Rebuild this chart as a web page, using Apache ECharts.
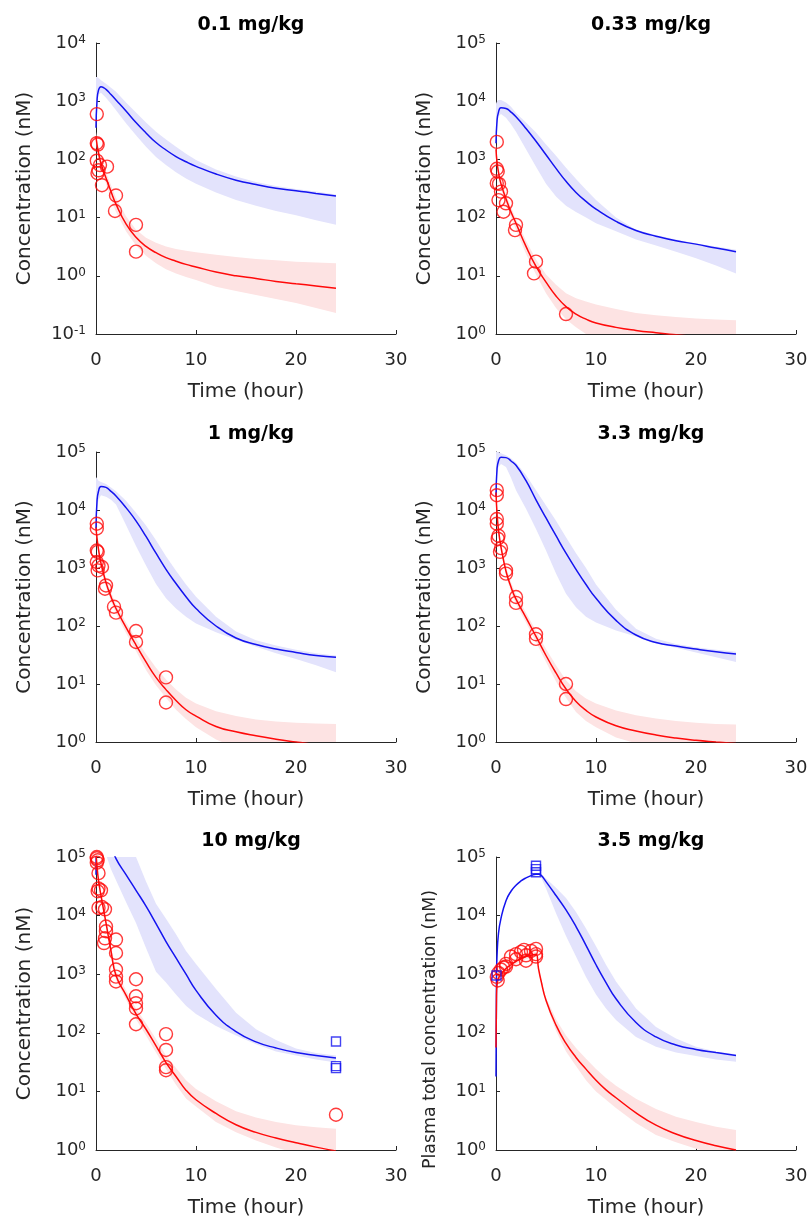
<!DOCTYPE html>
<html>
<head>
<meta charset="utf-8">
<script src="https://cdn.jsdelivr.net/npm/echarts@6/dist/echarts.min.js"></script>
<style>
  html, body { margin: 0; padding: 0; background: #fff; }
  #pk { width: 812px; height: 1222px; }
</style>
</head>
<body>
<div id="pk"></div>
<script>
// ---- time grid used for model curves (hour) ----
var T = [0, 0.1, 0.25, 0.5, 1, 1.5, 2, 3, 4, 5, 6, 7, 8, 9, 10, 12, 14, 16, 18, 20, 22, 24];
var T6 = [0, 0.05, 0.1, 0.25, 0.5, 1, 1.5, 2, 2.5, 3, 3.5, 4, 4.25, 4.5, 5, 6, 7, 8, 9, 10, 11, 12, 14, 16, 18, 20, 22, 24];

// ---- 0.1 mg/kg ----
var p1BlueMid = [350, 1000, 1550, 1780, 1600, 1300, 1050, 680, 430, 285, 195, 145, 112, 91, 76, 56, 44, 37, 32, 29, 26, 23.5];
var p1BlueHi = [2600, 2600, 2500, 2300, 2000, 1700, 1450, 950, 640, 430, 300, 220, 165, 125, 98, 67, 51, 41, 35, 31, 28, 25];
var p1BlueLo = [350, 900, 1300, 1400, 1150, 900, 700, 420, 260, 165, 110, 80, 60, 47, 38, 27, 20, 16, 13, 11, 9, 7.5];
var p1RedMid = [250, 180, 130, 85, 48, 28, 17, 7.8, 4.6, 3.2, 2.5, 2.05, 1.78, 1.57, 1.42, 1.16, 1.0, 0.9, 0.8, 0.73, 0.67, 0.61];
var p1RedHi = [300, 220, 160, 105, 60, 36, 22, 10.5, 6.2, 4.5, 3.7, 3.2, 2.9, 2.7, 2.55, 2.3, 2.1, 1.95, 1.85, 1.75, 1.7, 1.65];
var p1RedLo = [200, 150, 105, 68, 38, 21, 12.5, 5.8, 3.3, 2.2, 1.65, 1.3, 1.1, 0.95, 0.85, 0.65, 0.55, 0.47, 0.4, 0.34, 0.28, 0.23];
var circ1 = [[0.08, 600], [0.08, 190], [0.17, 180], [0.08, 95], [0.4, 80], [0.25, 65], [0.15, 58], [1.1, 75], [0.6, 36], [2.0, 24], [1.9, 13], [4.0, 7.5], [4.0, 2.6]];

// ---- 0.33 mg/kg ----
var p2BlueMid = [1900, 4500, 6500, 7700, 7500, 6500, 5400, 3400, 2050, 1200, 700, 420, 270, 190, 140, 86, 60, 48, 40, 35, 30, 26];
var p2BlueHi = [9000, 10000, 10500, 10500, 9500, 8000, 6300, 4300, 2900, 1800, 1150, 720, 460, 300, 200, 100, 62, 50, 42, 36, 32, 28];
var p2BlueLo = [1900, 4000, 5500, 6000, 5200, 4000, 3000, 1500, 750, 380, 230, 160, 125, 100, 80, 58, 42, 33, 26, 20, 15, 11];
var p2RedMid = [1500, 900, 600, 380, 210, 125, 80, 32, 14.5, 7.8, 4.5, 2.95, 2.2, 1.8, 1.55, 1.3, 1.15, 1.05, 0.97, 0.9, 0.84, 0.78];
var p2RedHi = [1800, 1100, 720, 460, 250, 150, 95, 40, 19, 10.5, 7, 5, 4.1, 3.6, 3.2, 2.7, 2.3, 2.1, 1.95, 1.85, 1.78, 1.72];
var p2RedLo = [1200, 750, 500, 310, 170, 100, 62, 24, 10.5, 5, 2.8, 1.8, 1.3, 1.0, 0.85, 0.65, 0.55, 0.48, 0.43, 0.4, 0.37, 0.35];
var circ2 = [[0.08, 2000], [0.08, 690], [0.17, 620], [0.08, 390], [0.3, 380], [0.5, 280], [0.25, 200], [1.0, 176], [0.75, 126], [2.0, 75], [1.9, 61], [4.0, 17.5], [3.8, 11], [7.0, 2.2]];

// ---- 1 mg/kg ----
var p3BlueMid = [4800, 14000, 21000, 25500, 24500, 21000, 17500, 11000, 6500, 3500, 1800, 950, 540, 320, 200, 100, 62, 48, 40, 35, 31, 29];
var p3BlueHi = [37000, 35000, 32000, 30500, 28000, 24500, 21000, 14500, 9000, 5400, 3000, 1600, 900, 520, 320, 145, 80, 57, 46, 39, 34, 31];
var p3BlueLo = [4800, 10000, 15000, 18000, 17000, 15000, 12500, 5500, 2400, 1100, 530, 300, 200, 145, 110, 78, 58, 44, 34, 27, 21, 16];
var p3RedMid = [5000, 3300, 2100, 1200, 560, 320, 200, 95, 47, 24, 13, 8, 5.2, 3.6, 2.8, 1.85, 1.5, 1.28, 1.12, 1.0, 0.9, 0.82];
var p3RedHi = [5800, 3900, 2500, 1420, 660, 380, 240, 115, 60, 33, 19, 12, 8, 5.8, 4.6, 3.4, 2.8, 2.45, 2.25, 2.15, 2.08, 2.05];
var p3RedLo = [4200, 2800, 1800, 1020, 470, 265, 165, 76, 37, 17.5, 9.5, 5.8, 3.6, 2.5, 1.8, 1.1, 0.8, 0.65, 0.55, 0.48, 0.42, 0.38];
var circ3 = [[0.08, 5800], [0.08, 4800], [0.08, 2000], [0.17, 1900], [0.08, 1270], [0.25, 1100], [0.17, 910], [0.6, 1040], [1.0, 500], [0.9, 440], [1.8, 215], [2.0, 170], [4.0, 82], [4.0, 53], [7.0, 13], [7.0, 4.8]];

// ---- 3.3 mg/kg ----
var p4BlueMid = [17000, 50000, 70000, 81000, 80000, 70000, 59000, 32000, 15000, 7300, 3600, 1800, 950, 520, 300, 125, 70, 52, 45, 40, 36, 33];
var p4BlueHi = [110000, 105000, 100000, 95000, 88000, 78000, 65000, 40000, 22000, 12000, 6500, 3400, 1800, 1000, 520, 190, 90, 60, 49, 43, 39, 36];
var p4BlueLo = [17000, 40000, 55000, 62000, 55000, 36000, 22000, 10500, 4700, 2000, 800, 360, 210, 145, 115, 84, 66, 50, 42, 35, 29, 24];
var p4RedMid = [20000, 9000, 4500, 2300, 880, 470, 290, 140, 66, 31, 15.5, 8.2, 5, 3.5, 2.7, 1.9, 1.55, 1.32, 1.17, 1.07, 1.0, 0.94];
var p4RedHi = [25000, 10500, 5300, 2700, 1050, 560, 350, 170, 82, 40, 21, 11.6, 7.5, 5.6, 4.6, 3.5, 2.9, 2.55, 2.3, 2.15, 2.05, 2.0];
var p4RedLo = [17000, 7600, 3800, 1950, 740, 390, 240, 115, 53, 24, 11, 5.8, 3.3, 2.3, 1.8, 1.2, 0.95, 0.78, 0.67, 0.58, 0.52, 0.47];
var circ4 = [[0.08, 22000], [0.08, 18000], [0.08, 7000], [0.08, 5800], [0.25, 3600], [0.17, 3200], [0.5, 2200], [0.4, 1900], [1.0, 910], [1.0, 800], [2.0, 316], [2.0, 250], [4.0, 72], [4.0, 60], [7.0, 10], [7.0, 5.5]];

// ---- 10 mg/kg ----
var p5BlueMid = [50000, 250000, 300000, 320000, 260000, 160000, 94000, 50000, 27000, 14500, 7300, 3600, 1900, 1000, 530, 200, 105, 70, 55, 46, 41, 37];
var p5BlueHi = [400000, 450000, 480000, 480000, 420000, 350000, 280000, 170000, 100000, 38000, 16000, 8800, 4800, 2500, 1500, 560, 220, 115, 75, 54, 45, 41];
var p5BlueLo = [50000, 200000, 240000, 230000, 110000, 62000, 40000, 17000, 7500, 2800, 1100, 720, 450, 290, 210, 130, 90, 64, 48, 41, 35, 31];
var p5RedMid = [120000, 70000, 40000, 22000, 7500, 2500, 950, 440, 210, 115, 60, 31, 18, 10.5, 7.2, 4.2, 2.7, 2.0, 1.6, 1.33, 1.12, 0.96];
var p5RedHi = [140000, 82000, 47000, 26000, 9000, 3000, 1150, 530, 260, 145, 78, 41, 25, 15.5, 11, 6.8, 4.6, 3.6, 3.0, 2.65, 2.45, 2.3];
var p5RedLo = [100000, 60000, 34000, 18500, 6200, 2100, 800, 370, 170, 90, 46, 24, 13, 7.6, 5.5, 3.0, 2.0, 1.45, 1.1, 0.88, 0.7, 0.58];
var circ5 = [[0.08, 100000], [0.08, 95000], [0.17, 88000], [0.08, 80000], [0.25, 53000], [0.25, 29000], [0.5, 27000], [0.17, 26000], [0.6, 14000], [0.25, 13500], [0.9, 12800], [1.0, 6500], [1.0, 5400], [0.9, 4100], [0.8, 3400], [2.0, 3900], [2.0, 2300], [2.0, 1200], [2.0, 910], [2.0, 750], [4.0, 820], [4.0, 420], [4.0, 320], [4.0, 260], [4.0, 140], [7.0, 95], [7.0, 51], [7.0, 26], [7.0, 23], [24.0, 4.0]];
var sq5 = [[24, 71], [24, 27], [24, 25]];

// ---- 3.5 mg/kg (infusion) ----
var p6BlueMid = [18, 900, 2000, 5000, 9000, 18000, 26000, 33000, 39000, 44000, 48000, 51000, 51000, 49000, 38000, 22000, 12500, 6500, 3100, 1450, 720, 380, 150, 85, 62, 52, 46, 41];
var p6BlueHi = [18, 900, 2000, 5000, 9000, 18000, 26000, 33000, 39000, 44000, 48000, 51000, 52000, 50500, 43000, 30000, 20000, 11500, 6000, 3000, 1450, 750, 260, 125, 80, 58, 48, 43];
var p6BlueLo = [18, 900, 2000, 5000, 9000, 18000, 26000, 33000, 39000, 44000, 48000, 51000, 50000, 45000, 29000, 11000, 4500, 2000, 900, 450, 260, 165, 85, 58, 46, 40, 35, 32];
var p6RedMid = [56, 400, 650, 850, 1000, 1250, 1450, 1650, 1850, 2000, 2100, 2200, 1250, 780, 360, 135, 66, 38, 24, 15.5, 10.6, 7.8, 4.3, 2.65, 1.88, 1.45, 1.18, 1.0];
var p6RedHi = [56, 440, 720, 940, 1100, 1380, 1600, 1820, 2040, 2200, 2310, 2420, 1320, 840, 400, 170, 90, 55, 36, 24, 17, 12.5, 7.5, 5, 3.7, 3.0, 2.5, 2.2];
var p6RedLo = [56, 360, 590, 770, 900, 1120, 1300, 1480, 1660, 1800, 1900, 2000, 1180, 720, 320, 108, 48, 27, 15.5, 10, 7.2, 5.2, 2.9, 1.8, 1.35, 1.05, 0.85, 0.7];
var circ6 = [[0.08, 900], [0.17, 780], [0.25, 1050], [0.5, 1200], [0.75, 1300], [1.0, 1500], [1.0, 1350], [1.5, 2000], [2.0, 2200], [2.0, 1800], [2.5, 2400], [2.8, 2600], [3.0, 1700], [3.0, 2100], [3.5, 2500], [4.0, 2700], [4.0, 2200], [4.0, 2000]];
var sq6 = [[4.0, 71000], [4.0, 62000], [4.0, 55000], [0.05, 950]];

var titles = ['0.1 mg/kg', '0.33 mg/kg', '1 mg/kg', '3.3 mg/kg', '10 mg/kg', '3.5 mg/kg'];
var yNames = ['Concentration (nM)', 'Concentration (nM)', 'Concentration (nM)', 'Concentration (nM)', 'Concentration (nM)', 'Plasma total concentration (nM)'];
var yMins = [0.1, 1, 1, 1, 1, 1];
var yMaxs = [1e4, 1e5, 1e5, 1e5, 1e5, 1e5];

function renderPK() {
    var dom = document.getElementById('pk');
    var myChart = echarts.init(dom, null, { renderer: 'canvas' });
    var option;

    var txt = '#262626';
    var font = 'DejaVu Sans';
    var blue = '#1414f0', red = '#ff0a0a';
    var blueBand = '#e3e3fc', redBand = '#fde3e3';

    var panels = [
        { t: T, bm: p1BlueMid, bh: p1BlueHi, bl: p1BlueLo, rm: p1RedMid, rh: p1RedHi, rl: p1RedLo, c: circ1, s: [] },
        { t: T, bm: p2BlueMid, bh: p2BlueHi, bl: p2BlueLo, rm: p2RedMid, rh: p2RedHi, rl: p2RedLo, c: circ2, s: [] },
        { t: T, bm: p3BlueMid, bh: p3BlueHi, bl: p3BlueLo, rm: p3RedMid, rh: p3RedHi, rl: p3RedLo, c: circ3, s: [] },
        { t: T, bm: p4BlueMid, bh: p4BlueHi, bl: p4BlueLo, rm: p4RedMid, rh: p4RedHi, rl: p4RedLo, c: circ4, s: [] },
        { t: T, bm: p5BlueMid, bh: p5BlueHi, bl: p5BlueLo, rm: p5RedMid, rh: p5RedHi, rl: p5RedLo, c: circ5, s: sq5 },
        { t: T6, bm: p6BlueMid, bh: p6BlueHi, bl: p6BlueLo, rm: p6RedMid, rh: p6RedHi, rl: p6RedLo, c: circ6, s: sq6 }
    ];

    var grids = [
        { left: 96, top: 43, width: 300, height: 291 },
        { left: 496, top: 43, width: 300, height: 291 },
        { left: 96, top: 452, width: 300, height: 290 },
        { left: 496, top: 452, width: 300, height: 290 },
        { left: 96, top: 857, width: 300, height: 293 },
        { left: 496, top: 857, width: 300, height: 293 }
    ];
    var titleTops = [11, 11, 420, 420, 827, 827];

    // shaded band: one polygon through hi (forward) and lo (back)
    function band(i, tArr, lo, hi, color) {
        var d = tArr.map(function (t, k) { return [t, lo[k], hi[k]]; });
        return {
            type: 'custom', xAxisIndex: i, yAxisIndex: i, clip: true, silent: true, z: 1,
            data: d,
            renderItem: function (params, api) {
                if (params.dataIndexInside !== 0) return null;
                var n = params.dataInsideLength, pts = [], k;
                for (k = 0; k < n; k++) pts.push(api.coord([api.value(0, k), api.value(2, k)]));
                for (k = n - 1; k >= 0; k--) pts.push(api.coord([api.value(0, k), api.value(1, k)]));
                return { type: 'polygon', shape: { points: pts }, style: { fill: color } };
            }
        };
    }

    var xAxes = [], yAxes = [], series = [], titleArr = [];
    panels.forEach(function (p, i) {
        var g = grids[i];
        var small = i === 5;
        titleArr.push({
            text: titles[i], left: g.left + g.width / 2, top: titleTops[i], textAlign: 'center',
            textStyle: { fontFamily: font, fontSize: 19, fontWeight: 'bold', color: '#000' }
        });
        xAxes.push({
            gridIndex: i, type: 'value', min: 0, max: 30, interval: 10,
            name: 'Time (hour)', nameLocation: 'middle', nameGap: 48,
            nameTextStyle: { fontFamily: font, fontSize: 20, color: txt },
            axisLine: { show: true, lineStyle: { color: txt, width: 1 } },
            axisTick: { show: true, inside: true, length: 4, lineStyle: { color: txt } },
            axisLabel: { fontFamily: font, fontSize: 18, color: txt, margin: 17 },
            splitLine: { show: false }
        });
        yAxes.push({
            gridIndex: i, type: 'log', logBase: 10, min: yMins[i], max: yMaxs[i],
            name: yNames[i], nameLocation: 'middle', nameGap: small ? 57 : 61,
            nameTextStyle: small
                ? { fontFamily: font, fontSize: 17.4, color: txt, padding: [0, 52, 0, 0] }
                : { fontFamily: font, fontSize: 20, color: txt },
            axisLine: { show: true, lineStyle: { color: txt, width: 1 } },
            axisTick: { show: true, inside: true, length: 4, lineStyle: { color: txt } },
            axisLabel: {
                margin: 10,
                formatter: function (v) {
                    return '{b|10}{s|' + Math.round(Math.log(v) / Math.LN10) + '}';
                },
                rich: {
                    b: { fontFamily: font, fontSize: 18, color: txt, lineHeight: 18, padding: [5, 0, 0, 0], verticalAlign: 'bottom' },
                    s: { fontFamily: font, fontSize: 12, color: txt, lineHeight: 12, verticalAlign: 'top' }
                }
            },
            splitLine: { show: false }
        });

        series.push(band(i, p.t, p.bl, p.bh, blueBand));
        series.push(band(i, p.t, p.rl, p.rh, redBand));
        series.push({
            type: 'line', xAxisIndex: i, yAxisIndex: i, showSymbol: false, smooth: 0.5, z: 3,
            data: p.t.map(function (t, k) { return [t, p.bm[k]]; }),
            lineStyle: { color: blue, width: 1.5 }
        });
        series.push({
            type: 'line', xAxisIndex: i, yAxisIndex: i, showSymbol: false, smooth: 0.5, z: 3,
            data: p.t.map(function (t, k) { return [t, p.rm[k]]; }),
            lineStyle: { color: red, width: 1.5 }
        });
        series.push({
            type: 'scatter', xAxisIndex: i, yAxisIndex: i, symbol: 'circle', symbolSize: 13, z: 4,
            data: p.c,
            itemStyle: { color: 'rgba(0,0,0,0)', borderColor: red, borderWidth: 1.4 }
        });
        if (p.s.length) {
            series.push({
                type: 'scatter', xAxisIndex: i, yAxisIndex: i, symbol: 'rect', symbolSize: 9, z: 5,
                data: p.s,
                itemStyle: { color: 'rgba(0,0,0,0)', borderColor: blue, borderWidth: 1.4 }
            });
        }
    });

    option = {
        backgroundColor: '#FFFFFF',
        animation: false,
        title: titleArr,
        grid: grids,
        xAxis: xAxes,
        yAxis: yAxes,
        series: series
    };

    if (option && typeof option === 'object') {
        myChart.setOption(option);
    }
}
renderPK();
</script>
</body>
</html>
